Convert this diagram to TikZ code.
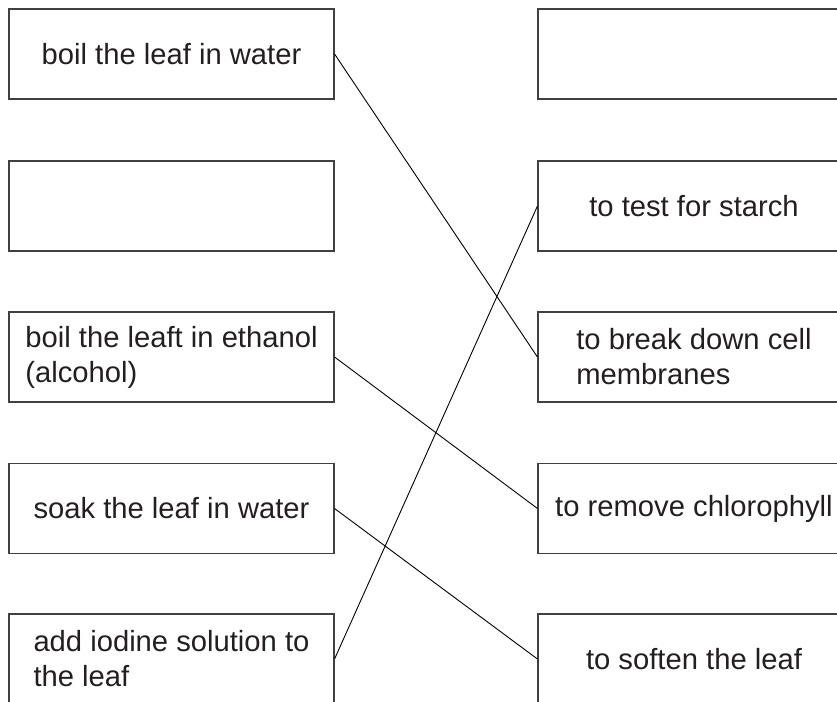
\documentclass[tikz,border=0pt]{standalone}
\usepackage{fontspec}
\setmainfont{Liberation Sans}
\definecolor{boxgray}{HTML}{404040}
\definecolor{inkgray}{HTML}{231F20}

\begin{document}
\begin{tikzpicture}[x=1pt,y=-1pt,
    box/.style={draw=boxgray,line width=1.1pt,rectangle,minimum width=325pt,minimum height=90pt,
      inner sep=0pt,align=left,text=inkgray,font=\fontsize{29.2}{35}\selectfont},
    rbox/.style={box,minimum width=312pt},
    link/.style={line width=0.9pt,black}]
      \useasboundingbox (0,0) rectangle (837,701);
      \clip (0,0) rectangle (837,701);
      % left column
      \node [box] (step1) at (171.5,54) {boil the leaf in water};
      \node [box] (step2) at (171.5,206) {};
      \node [box] (step3) at (171.5,357) {boil the leaft in ethanol\\(alcohol)};
      \node [box] (step4) at (171.5,508.5) {soak the leaf in water};
      \node [box] (step5) at (171.5,659) {add iodine solution to\\the leaf};
      % right column
      \node [rbox] (why1) at (694,54) {};
      \node [rbox] (why2) at (694,206) {to test for starch};
      \node [rbox] (why3) at (694,357) {to break down cell\\membranes};
      \node [rbox] (why4) at (694,508.5) {to remove chlorophyll};
      \node [rbox] (why5) at (694,659) {to soften the leaf};
      \draw [link]
        (step1.east) -- (why3.west)
        (step3.east) -- (why4.west)
        (step4.east) -- (why5.west)
        (step5.east) -- (why2.west);
    \end{tikzpicture}
\end{document}
